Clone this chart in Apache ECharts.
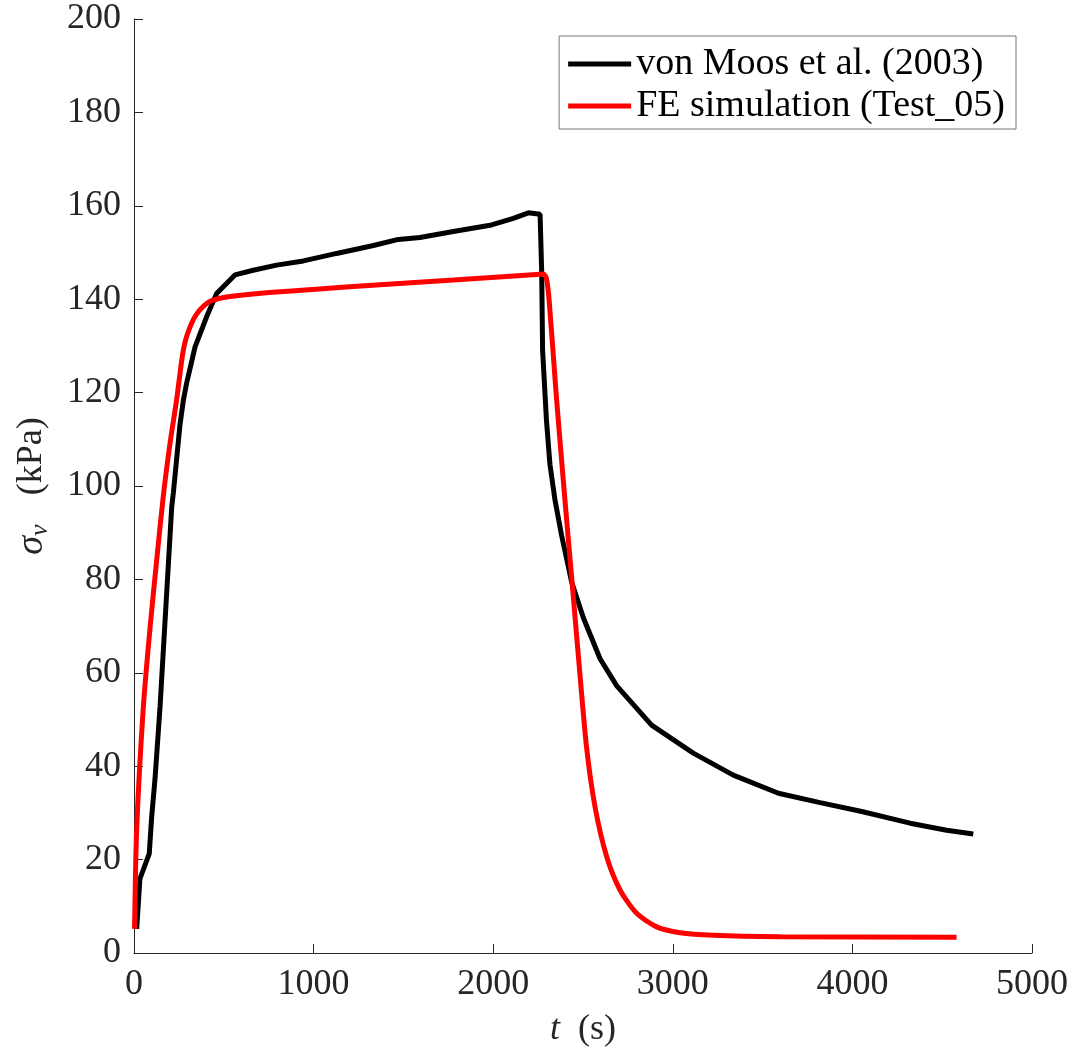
<!DOCTYPE html>
<html>
<head>
<meta charset="utf-8">
<script src="https://cdn.jsdelivr.net/npm/echarts@6/dist/echarts.min.js"></script>
<style>
  html, body { margin: 0; padding: 0; background: #fff; }
  #main { width: 1074px; height: 1053px; }
</style>
</head>
<body>
<div id="main"></div>
<script>
// measured data, von Moos et al. (2003): time (s), stress (kPa)
var mooT = [15, 33, 85, 98, 117, 145, 182, 210, 219, 256, 275, 293, 340, 405, 460, 562, 664, 794, 943, 1128,
            1333, 1472, 1592, 1778, 1991, 2112, 2196, 2261, 2270, 2275, 2297, 2316, 2344, 2381, 2437, 2502,
            2595, 2688, 2882, 3114, 3337, 3588, 3820, 4052, 4321, 4525, 4673];
var mooS = [5.2, 15.9, 21.3, 28.9, 37.3, 52.7, 77.1, 95.5, 98.5, 113.1, 118.4, 122, 129.8, 136.3, 141.2, 145.2, 146.2, 147.3, 148.2, 149.8,
            151.5, 152.8, 153.2, 154.5, 155.9, 157.3, 158.5, 158.2, 145.9, 129.1, 113.8, 104.6, 97, 89.4, 79.4, 71.8,
            63, 57.2, 48.8, 42.8, 38.1, 34.2, 32.2, 30.3, 27.8, 26.3, 25.5];

// FE simulation (Test_05)
var feT = [3, 15, 52, 89, 126, 163, 200, 237, 270, 293, 340, 405, 479, 664, 1220, 1778, 2242, 2279, 2296, 2311,
           2350, 2395, 2440, 2480, 2520, 2567, 2632, 2706, 2799, 2910, 3040, 3226, 3597, 4580];
var feS = [5.2, 26.6, 52.7, 69.5, 84, 97.8, 109, 118.4, 128, 132, 136.3, 139.1, 140.2, 141.1, 142.7, 144.1, 145.3, 145.4, 144.5, 140,
           120, 99, 79, 61, 44, 31.3, 20.6, 13.5, 8.5, 5.6, 4.35, 3.8, 3.5, 3.35];

var seriesNames = ['von Moos et al. (2003)', 'FE simulation (Test_05)'];

function pairs(xs, ys) {
  return xs.map(function (x, i) { return [x, ys[i]]; });
}

var font = 'Liberation Serif';
var axisColor = '#262626';

option = {
  animation: false,
  backgroundColor: '#fff',
  grid: { left: 134, right: 42, top: 19, bottom: 100 },
  legend: {
    orient: 'vertical',
    right: 58,
    top: 36,
    padding: [9, 11, 4, 9],
    itemGap: 4,
    itemWidth: 63,
    itemHeight: 5,
    icon: 'rect',
    borderColor: '#777',
    borderWidth: 1,
    backgroundColor: '#fff',
    data: seriesNames,
    textStyle: { fontFamily: font, fontSize: 38, color: '#000' }
  },
  xAxis: {
    type: 'value',
    min: 0, max: 5000, interval: 1000,
    name: '{i|t}  (s)',
    nameLocation: 'middle',
    nameGap: 59,
    nameTextStyle: {
      fontFamily: font, fontSize: 36, color: axisColor,
      rich: { i: { fontFamily: font, fontSize: 36, fontStyle: 'italic', color: axisColor } }
    },
    splitLine: { show: false },
    axisLine: { lineStyle: { color: axisColor, width: 1 } },
    axisTick: { inside: true, length: 9, lineStyle: { color: axisColor } },
    axisLabel: {
      fontFamily: font, fontSize: 36, color: axisColor, margin: 14,
      formatter: function (v) { return String(v); }
    }
  },
  yAxis: {
    type: 'value',
    min: 0, max: 200, interval: 20,
    name: '{i|σ}{s|v}   (kPa)',
    nameLocation: 'middle',
    nameGap: 81,
    nameRotate: 90,
    nameTextStyle: {
      fontFamily: font, fontSize: 36, color: axisColor,
      rich: {
        i: { fontFamily: font, fontSize: 38, fontStyle: 'italic', color: axisColor },
        s: { fontFamily: font, fontSize: 26, fontStyle: 'italic', color: axisColor, padding: [16, 2, 0, 0] }
      }
    },
    splitLine: { show: false },
    axisLine: { show: true, lineStyle: { color: axisColor, width: 1 } },
    axisTick: { show: true, inside: true, length: 9, lineStyle: { color: axisColor } },
    axisLabel: { fontFamily: font, fontSize: 36, color: axisColor, margin: 13 }
  },
  series: [
    {
      name: seriesNames[0],
      type: 'line',
      data: pairs(mooT, mooS),
      symbol: 'none',
      color: '#000',
      lineStyle: { width: 5, color: '#000' }
    },
    {
      name: seriesNames[1],
      type: 'line',
      data: pairs(feT, feS),
      symbol: 'none',
      smooth: 0.25,
      color: '#ff0000',
      lineStyle: { width: 5, color: '#ff0000' }
    }
  ]
};

var myChart = echarts.init(document.getElementById('main'));
myChart.setOption(option);
</script>
</body>
</html>
